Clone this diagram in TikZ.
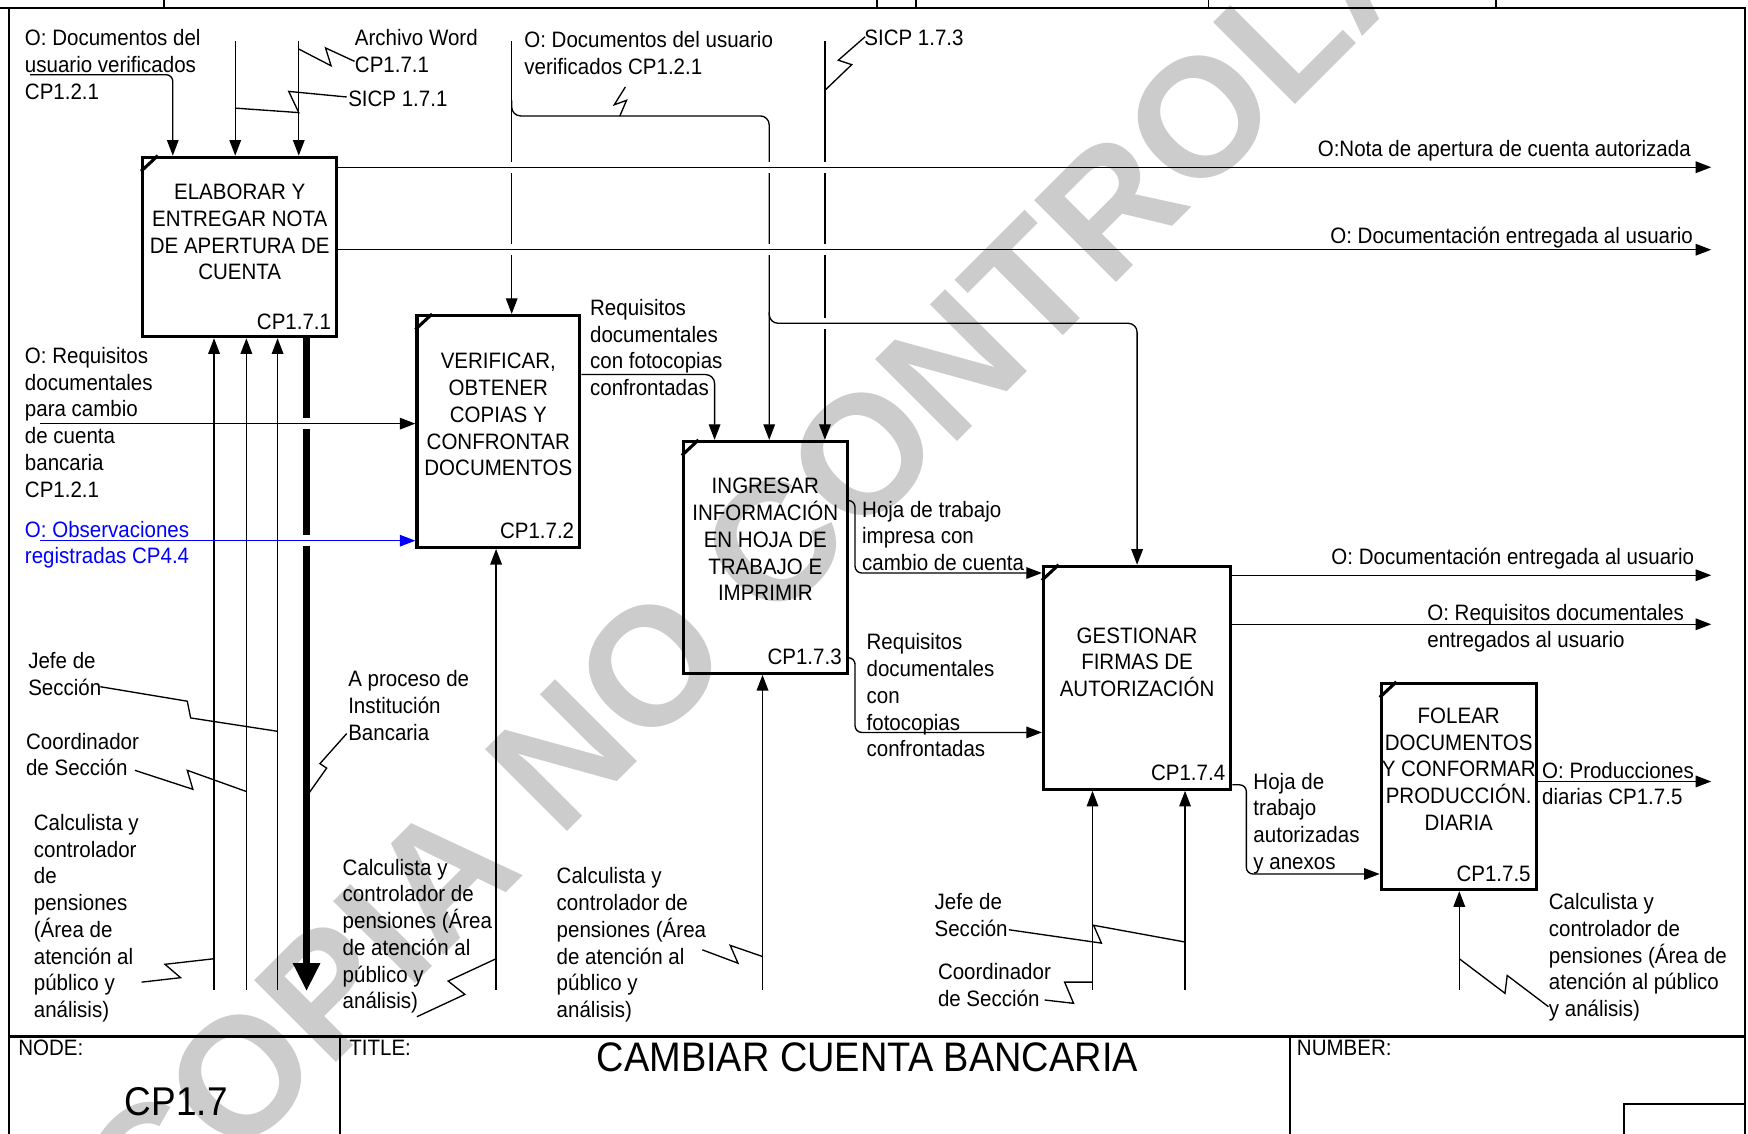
\documentclass[tikz,border=0pt]{standalone}
\usepackage{fontspec}
\setmainfont{Liberation Sans}[FakeStretch=0.92]
\newfontfamily\wmfont{Liberation Sans}
\usetikzlibrary{positioning,arrows.meta}
\definecolor{obsblue}{HTML}{0000FF}

\begin{document}
\begin{tikzpicture}[x=0.5pt, y=-0.5pt,
    every node/.style={font=\fontsize{10}{12}\selectfont},
    proc/.style={rectangle, draw, line width=1.4pt, inner sep=0pt},
    ptext/.style={align=center, inner sep=0pt, yshift=-3.5pt, execute at begin node={\rule{0pt}{10pt}}},
    pid/.style={anchor=base east, inner sep=0pt},
    lbl1/.style={anchor=north west, align=left, inner sep=0pt, execute at begin node={\rule{0pt}{10pt}}},
    lblr/.style={lbl1, anchor=north east, align=right},
    lbl/.style={lbl1, yshift=-3pt},
    arr/.style={-{Triangle[length=7pt,width=5.2pt]}, line width=0.6pt},
    bigarr/.style={-{Triangle[length=12.5pt,width=11.5pt]}, line width=3pt},
    zig/.style={line width=0.6pt},
    frame/.style={line width=0.8pt},
    wmark/.style={text=black!20, font=\wmfont\bfseries\fontsize{75.5}{75.5}\selectfont, rotate=45, inner sep=0pt, anchor=base west}
  ]
  \useasboundingbox (0,0) rectangle (1568,1017);
  % watermark
  \node[wmark] (wm) at (134,1121) {COPIA NO CONTROLADA};

  % frame and title block
  \draw[frame] (0,7) -- (1565,7) -- (1565,1017);
  \draw[frame] (8,7) -- (8,1017);
  \foreach \tx in {147,787,822,1084,1342} \draw[frame] (\tx,0) -- (\tx,7);
  \draw[line width=1.3pt] (8,930) -- (1565,930);
  \draw[frame] (305,930) -- (305,1017);
  \draw[frame] (1157,930) -- (1157,1017);
  \draw[line width=1pt] (1457,1017) |- (1565,990);
  \node[lbl1] (node) at (16,926) {NODE:};
  \node[lbl1] (title) at (313,926) {TITLE:};
  \node[lbl1] (number) at (1163,926) {NUMBER:};
  \node[anchor=base, font=\fontsize{18.5}{20}\selectfont] (ttl) at (778,961) {CAMBIAR CUENTA BANCARIA};
  \node[anchor=base west, font=\fontsize{18}{20}\selectfont] (nid) at (105,1001) {CP1.7};

  % activity boxes
  \node[proc, minimum width=87pt, minimum height=80.5pt] (p1) at (215,221.5) {};
  \node[proc, minimum width=73pt, minimum height=104pt] (p2) at (447,387) {};
  \node[proc, minimum width=73.5pt, minimum height=104pt] (p3) at (686.5,500) {};
  \node[proc, minimum width=84pt, minimum height=100pt] (p4) at (1020,608) {};
  \node[proc, minimum width=69.5pt, minimum height=92.5pt] (p5) at (1308.5,705.5) {};
  \foreach \p in {p1,p2,p3,p4,p5}
    \draw[line width=1.4pt] ([yshift=-7pt]\p.north west) -- ([xshift=7.5pt]\p.north west);

  \node[ptext, below=9pt of p1.north] (t1) {ELABORAR Y\\ENTREGAR NOTA\\DE APERTURA DE\\CUENTA};
  \node[ptext, below=14pt of p2.north] (t2) {VERIFICAR,\\OBTENER\\COPIAS Y\\CONFRONTAR\\DOCUMENTOS};
  \node[ptext, below=13.5pt of p3.north] (t3) {INGRESAR\\INFORMACIÓN\\EN HOJA DE\\TRABAJO E\\IMPRIMIR};
  \node[ptext, below=24.5pt of p4.north] (t4) {GESTIONAR\\FIRMAS DE\\AUTORIZACIÓN};
  \node[ptext, below=8pt of p5.north] (t5) {FOLEAR\\DOCUMENTOS\\Y CONFORMAR\\PRODUCCIÓN.\\DIARIA};
  \node[pid] (id1) at ([xshift=-3pt,yshift=4pt]p1.south east) {CP1.7.1};
  \node[pid] (id2) at ([xshift=-3pt,yshift=4.5pt]p2.south east) {CP1.7.2};
  \node[pid] (id3) at ([xshift=-3pt,yshift=4.5pt]p3.south east) {CP1.7.3};
  \node[pid] (id4) at ([xshift=-3pt,yshift=4.5pt]p4.south east) {CP1.7.4};
  \node[pid] (id5) at ([xshift=-3pt,yshift=4.5pt]p5.south east) {CP1.7.5};

  % controls (vertical lines first, gaps, then horizontals)
  \draw[arr, rounded corners=3pt] (27,67) -| (p1.north -| 155,0);
  \draw[arr] (211,37) -- (p1.north -| 211,0);
  \draw[arr] (268,37) -- (p1.north -| 268,0);
  \draw[arr] (459,37) -- (p2.north -| 459,0);
  \draw[arr, rounded corners=4pt] (459,90) |- (690,104) -- (p3.north -| 690,0);
  \draw[arr] (740,37) -- (p3.north -| 740,0);
  \draw[arr, rounded corners=4pt] (p2.east |- 0,336) -| (p3.north -| 641,0);
  \foreach \mx in {192,221,249} \draw[arr] (\mx,888) -- (p1.south -| \mx,0);
  \draw[bigarr] (p1.south -| 275,0) -- (275,889);

  \foreach \gx/\gy in {459/150,459/224,690/150,690/224,740/150,740/224,740/290,275/380,275/485}
    \fill[white] (\gx-5,\gy-5) rectangle (\gx+5,\gy+5);

  \coordinate (o1) at (1535,150);
  \coordinate (o2) at (1535,224);
  \coordinate (o3) at (1535,516);
  \coordinate (o4) at (1535,560);
  \coordinate (o5) at (1535,701);
  \draw[arr] (p1.east |- o1) -- (o1);
  \draw[arr] (p1.east |- o2) -- (o2);
  \draw[arr, rounded corners=4pt] (690,280) |- (1020,290) -- (p4.north -| 1020,0);
  \draw[arr] (36,380) -- (p2.west |- 0,380);
  \draw[arr, obsblue] (36,485) -- (p2.west |- 0,485);
  \draw[arr] (445,888) -- (p2.south -| 445,0);
  \draw[arr] (684,888) -- (p3.south -| 684,0);
  \draw[arr, rounded corners=3pt] (p3.east |- 0,449) -| (767,514) -- (p4.west |- 0,514);
  \draw[arr, rounded corners=3pt] (p3.east |- 0,590) -| (767,657) -- (p4.west |- 0,657);
  \draw[arr] (p4.east |- o3) -- (o3);
  \draw[arr] (p4.east |- o4) -- (o4);
  \draw[arr, rounded corners=3pt] (p4.east |- 0,704) -| (1118,784) -- (p5.west |- 0,784);
  \draw[arr] (980,888) -- (p4.south -| 980,0);
  \draw[arr] (1063,888) -- (p4.south -| 1063,0);
  \draw[arr] (p5.east |- o5) -- (o5);
  \draw[arr] (1309,888) -- (p5.south -| 1309,0);

  % squiggles to labels
  \draw[zig] (268,44) -- (297,59) -- (292,43) -- (318,55);
  \draw[zig] (211,97) -- (268,101) -- (259,82) -- (311,87);
  \draw[zig] (561,78) -- (551,94) -- (562,90) -- (556,104);
  \draw[zig] (740,81) -- (764,58) -- (752,54) -- (776,33);
  \draw[zig] (90,616) -- (168,629) -- (171,644) -- (249,656);
  \draw[zig] (121,691) -- (173,708) -- (168,691) -- (221,710);
  \draw[zig] (127,881) -- (162,877) -- (148,865) -- (192,860);
  \draw[zig] (311,658) -- (287,685) -- (293,689) -- (276,713);
  \draw[zig] (374,912) -- (417,892) -- (402,880) -- (445,860);
  \draw[zig] (630,852) -- (662,864) -- (655,848) -- (684,858);
  \draw[zig] (905,834) -- (988,846) -- (981,830) -- (1063,845);
  \draw[zig] (937,897) -- (963,900) -- (955,881) -- (980,881);
  \draw[zig] (1309,860) -- (1350,891) -- (1352,875) -- (1389,903);

  % labels
  \node[lbl] (docver) at (22,20) {O: Documentos del\\usuario verificados\\CP1.2.1};
  \node[lbl] (word) at (318,20) {Archivo Word\\CP1.7.1};
  \node[lbl1] (sicpa) at (312,75) {SICP 1.7.1};
  \node[lbl] (docverb) at (470,22) {O: Documentos del usuario\\verificados CP1.2.1};
  \node[lbl1] (sicpb) at (775,20) {SICP 1.7.3};
  \node[lblr] (nota) at (1517,120) {O:Nota de apertura de cuenta autorizada};
  \node[lblr] (entrega) at (1519,198) {O: Documentación entregada al usuario};
  \node[lbl] (reqcam) at (22,305) {O: Requisitos\\documentales\\para cambio\\de cuenta\\bancaria\\CP1.2.1};
  \node[lbl, text=obsblue] (obs) at (22,461) {O: Observaciones\\registradas CP4.4};
  \node[lbl] (reqfot) at (529,262) {Requisitos\\documentales\\con fotocopias\\confrontadas};
  \node[lbl] (hoja) at (773,443) {Hoja de trabajo\\impresa con\\cambio de cuenta};
  \node[lbl] (reqfotb) at (777,562) {Requisitos\\documentales\\con\\fotocopias\\confrontadas};
  \node[lblr] (entregab) at (1520,486) {O: Documentación entregada al usuario};
  \node[lbl] (reqent) at (1280,536) {O: Requisitos documentales\\entregados al usuario};
  \node[lbl] (hojaaut) at (1124,687) {Hoja de\\trabajo\\autorizadas\\y anexos};
  \node[lbl] (prod) at (1383,677) {O: Producciones\\diarias CP1.7.5};
  \node[lbl] (jefea) at (25,579) {Jefe de\\Sección};
  \node[lbl] (coorda) at (23,651) {Coordinador\\de Sección};
  \node[lbl] (calca) at (30,724) {Calculista y\\controlador\\de\\pensiones\\(Área de\\atención al\\público y\\análisis)};
  \node[lbl] (banco) at (312,595) {A proceso de\\Institución\\Bancaria};
  \node[lbl] (calcb) at (307,764) {Calculista y\\controlador de\\pensiones (Área\\de atención al\\público y\\análisis)};
  \node[lbl] (calcc) at (499,772) {Calculista y\\controlador de\\pensiones (Área\\de atención al\\público y\\análisis)};
  \node[lbl] (jefeb) at (838,795) {Jefe de\\Sección};
  \node[lbl] (coordb) at (841,858) {Coordinador\\de Sección};
  \node[lbl] (calcd) at (1389,795) {Calculista y\\controlador de\\pensiones (Área de\\atención al público\\y análisis)};
\end{tikzpicture}
\end{document}
